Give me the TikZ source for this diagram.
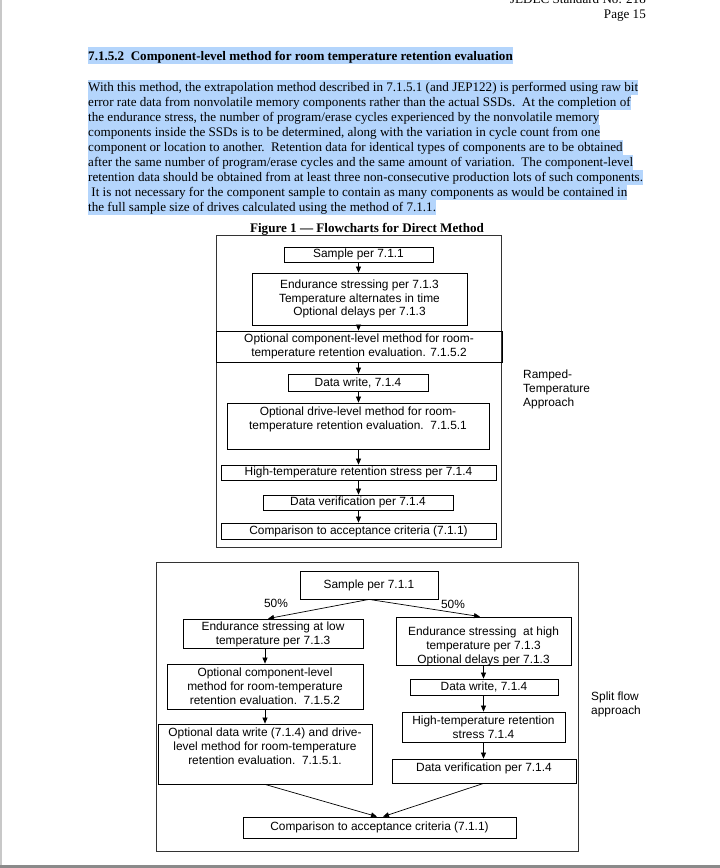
\documentclass[tikz,border=0pt]{standalone}
\usepackage{fontspec}
\setmainfont{Liberation Serif}
\newfontfamily\arialf{Liberation Sans}
\usetikzlibrary{arrows.meta}
\definecolor{hl}{RGB}{180,213,252}
\definecolor{edgegray}{RGB}{200,200,200}
\definecolor{bottomgray}{RGB}{138,138,138}
\begin{document}
\begin{tikzpicture}[x=1pt,y=-1pt,
  every node/.style={inner sep=0pt},
  serift/.style={font=\fontsize{13.1}{15}\selectfont},
  para/.style={anchor=base west, fill=hl, text height=11.5pt, text depth=3.5pt, font=\fontsize{13.1}{15}\selectfont},
  fbox/.style={draw, line width=0.8pt, align=center, font=\arialf\fontsize{11.9}{13.8}\selectfont},
  ftxt/.style={align=center, font=\arialf\fontsize{11.9}{13.8}\selectfont},
  outer/.style={draw=black!80, line width=0.9pt},
  arr/.style={-{Triangle[length=6pt,width=5pt]}, line width=0.7pt},
]
\useasboundingbox (0,0) rectangle (720,868);
\fill[white] (0,0) rectangle (720,868);
\fill[edgegray] (0,0) rectangle (2,868);
\fill[bottomgray] (0,865) rectangle (720,868);

% header
\node[serift, anchor=base east] (hdra) at (646,3) {JEDEC Standard No. 218};
\node[serift, anchor=base east] (hdrb) at (646,18) {Page 15};

% heading
\node[para, font=\bfseries\fontsize{13.1}{15}\selectfont, text height=13pt, text depth=4pt] (head) at (88,60)
  {7.1.5.2\ \ Component-level method for room temperature retention evaluation};

% paragraph
\node[para] (p1) at (88,91.5) {With this method, the extrapolation method described in 7.1.5.1 (and JEP122) is performed using raw bit};
\node[para] (p2) at (88,106.5) {error rate data from nonvolatile memory components rather than the actual SSDs.\ \ At the completion of};
\node[para] (p3) at (88,121.5) {the endurance stress, the number of program/erase cycles experienced by the nonvolatile memory};
\node[para] (p4) at (88,136.5) {components inside the SSDs is to be determined, along with the variation in cycle count from one};
\node[para] (p5) at (88,151.5) {component or location to another.\ \ Retention data for identical types of components are to be obtained};
\node[para] (p6) at (88,166.5) {after the same number of program/erase cycles and the same amount of variation.\ \ The component-level};
\node[para] (p7) at (88,181.5) {retention data should be obtained from at least three non-consecutive production lots of such components.};
\node[para] (p8) at (88,196.5) {\ It is not necessary for the component sample to contain as many components as would be contained in};
\node[para] (p9) at (88,211.5) {the full sample size of drives calculated using the method of 7.1.1.};

% figure title
\node[font=\bfseries\fontsize{13.1}{15}\selectfont, anchor=base] (title) at (367,232) {Figure 1 — Flowcharts for Direct Method};

% ---------- flowchart 1 ----------
\node[outer, minimum width=285pt, minimum height=312pt] (frame1) at (358.5,391) {};
\node[fbox, minimum width=149pt, minimum height=15pt] (s1) at (358.5,254.5) {Sample per 7.1.1};
\node[fbox, minimum width=215pt, minimum height=52pt] (e1) at (359.5,299) {Endurance stressing per 7.1.3\\Temperature alternates in time\\Optional delays per 7.1.3};
\node[fbox, minimum width=286pt, minimum height=31pt] (o1) at (359,346.5) {Optional component-level method for room-\\temperature retention evaluation. 7.1.5.2};
\node[fbox, minimum width=140pt, minimum height=17pt] (d1) at (358,382.5) {Data write, 7.1.4};
\node[fbox, minimum width=262pt, minimum height=46pt] (v1) at (358,426) {};
\node[ftxt] (v1t) at (358,419.5) {Optional drive-level method for room-\\temperature retention evaluation.\ \ 7.1.5.1};
\node[fbox, minimum width=275pt, minimum height=15pt] (h1) at (358.5,472.5) {High-temperature retention stress per 7.1.4};
\node[fbox, minimum width=190pt, minimum height=15pt] (dv1) at (358,502.5) {Data verification per 7.1.4};
\node[fbox, minimum width=275pt, minimum height=16pt] (c1) at (358.5,531) {Comparison to acceptance criteria (7.1.1)};

\draw[arr] (s1.south) -- (s1.south |- e1.north);
\draw[arr] (s1.south |- e1.south) -- (s1.south |- o1.north);
\draw[arr] (s1.south |- o1.south) -- (s1.south |- d1.north);
\draw[arr] (s1.south |- d1.south) -- (s1.south |- v1.north);
\draw[arr] (s1.south |- v1.south) -- (s1.south |- h1.north);
\draw[arr] (s1.south |- h1.south) -- (s1.south |- dv1.north);
\draw[arr] (s1.south |- dv1.south) -- (s1.south |- c1.north);

\node[ftxt, align=left, anchor=west] (ramped) at (523,389.5) {Ramped-\\Temperature\\Approach};

% ---------- flowchart 2 ----------
\node[outer, minimum width=422pt, minimum height=289pt] (frame2) at (367,706.5) {};
\node[fbox, minimum width=138pt, minimum height=28pt] (s2) at (369,585) {Sample per 7.1.1};
\node[ftxt] (p50l) at (276,603) {50\%};
\node[ftxt] (p50r) at (453,604) {50\%};

\node[fbox, minimum width=180pt, minimum height=29pt] (el) at (273,633.5) {};
\node[ftxt] (elt) at (273,634.5) {Endurance stressing at low\\temperature per 7.1.3};
\node[fbox, minimum width=196pt, minimum height=45pt] (ol) at (265,686.5) {Optional component-level\\method for room-temperature\\retention evaluation.\ \ 7.1.5.2};
\node[fbox, minimum width=214pt, minimum height=60pt] (dl) at (265,754) {};
\node[ftxt] (dlt) at (265,746) {Optional data write (7.1.4) and drive-\\level method for room-temperature\\retention evaluation.\ \ 7.1.5.1.};

\node[fbox, minimum width=175pt, minimum height=48pt] (eh) at (483.5,641) {};
\begin{scope}
  \clip (eh.south west) rectangle (eh.north east);
  \node[ftxt, font=\arialf\fontsize{11.9}{14.3}\selectfont] (eht) at (483.5,646.5) {Endurance stressing\ \ at high\\temperature per 7.1.3\\Optional delays per 7.1.3};
\end{scope}
\node[fbox, minimum width=148pt, minimum height=16pt] (dwh) at (484,687) {Data write, 7.1.4};
\node[fbox, minimum width=163pt, minimum height=30pt] (hh) at (483.5,727) {High-temperature retention\\stress 7.1.4};
\node[fbox, minimum width=184pt, minimum height=24pt] (dvh) at (484,771) {};
\node[ftxt] (dvht) at (484,768) {Data verification per 7.1.4};
\node[fbox, minimum width=273pt, minimum height=21pt] (c2) at (379.5,827.5) {Comparison to acceptance criteria (7.1.1)};

\draw[arr] (s2.south) -- ([xshift=-5pt]el.north);
\draw[arr] (s2.south) -- ([xshift=-3.5pt]eh.north);
\draw[arr] (el.south -| ol.north) -- (ol.north);
\draw[arr] (ol.south) -- (dl.north);
\draw[arr] (eh.south) -- (eh.south |- dwh.north);
\draw[arr] (eh.south |- dwh.south) -- (eh.south |- hh.north);
\draw[arr] (eh.south |- hh.south) -- (eh.south |- dvh.north);
\draw[arr] (dl.south) -- ([xshift=-2.5pt]c2.north);
\draw[arr] (eh.south |- dvh.south) -- ([xshift=3.5pt]c2.north);

\node[ftxt, align=left, anchor=west] (split) at (591,704.5) {Split flow\\approach};
\end{tikzpicture}
\end{document}
